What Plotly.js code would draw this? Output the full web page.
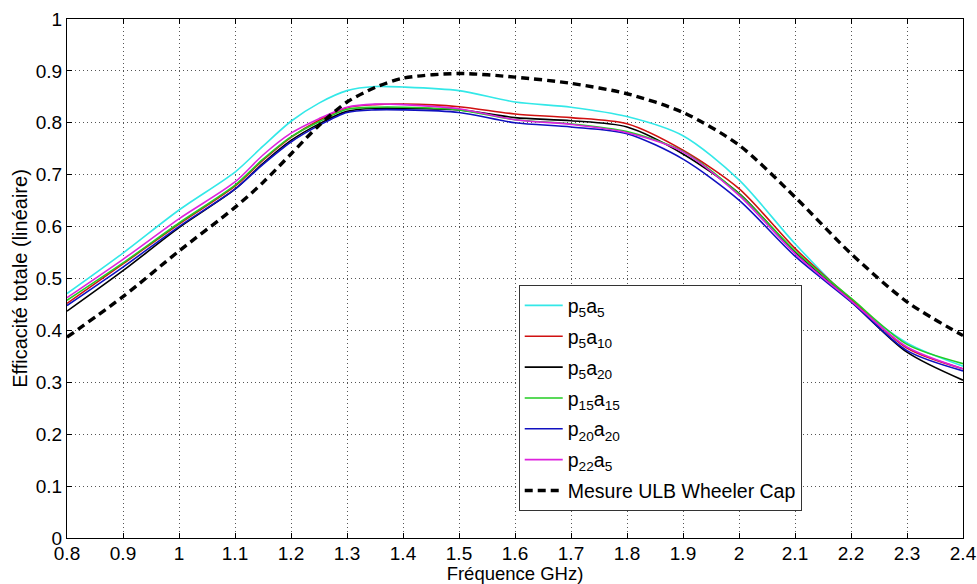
<!DOCTYPE html>
<html>
<head>
<meta charset="utf-8">
<script src="https://cdn.plot.ly/plotly-3.0.1.min.js"></script>
<style>html,body{margin:0;padding:0;background:#fff;}#chart{width:977px;height:584px;}</style>
</head>
<body>
<div id="chart"></div>
<script>
const freq = [0.8,0.9,1.0,1.1,1.15,1.2,1.25,1.3,1.35,1.4,1.5,1.6,1.7,1.8,1.9,2.0,2.1,2.2,2.3,2.4];
const p5a5   = [0.471,0.549,0.632,0.705,0.755,0.803,0.838,0.862,0.870,0.869,0.862,0.840,0.830,0.812,0.775,0.690,0.567,0.458,0.376,0.331];
const p5a10  = [0.452,0.528,0.605,0.678,0.728,0.772,0.805,0.829,0.835,0.836,0.831,0.817,0.810,0.798,0.747,0.673,0.558,0.460,0.366,0.326];
const p5a20  = [0.437,0.515,0.598,0.672,0.722,0.766,0.798,0.822,0.828,0.828,0.825,0.810,0.804,0.792,0.740,0.664,0.551,0.456,0.358,0.304];
const p15a15 = [0.458,0.530,0.607,0.680,0.730,0.773,0.802,0.826,0.830,0.830,0.825,0.806,0.798,0.783,0.745,0.663,0.553,0.462,0.373,0.336];
const p20a20 = [0.448,0.522,0.600,0.672,0.720,0.763,0.795,0.820,0.825,0.825,0.820,0.800,0.792,0.779,0.730,0.651,0.543,0.455,0.361,0.322];
const p22a5  = [0.463,0.537,0.615,0.686,0.738,0.780,0.808,0.830,0.836,0.835,0.827,0.806,0.797,0.781,0.744,0.660,0.548,0.457,0.368,0.326];
const mesure = [0.387,0.465,0.553,0.637,0.685,0.740,0.795,0.840,0.868,0.886,0.895,0.888,0.876,0.856,0.820,0.757,0.657,0.548,0.455,0.390];

const seriesNames = ['p<sub>5</sub>a<sub>5</sub>','p<sub>5</sub>a<sub>10</sub>','p<sub>5</sub>a<sub>20</sub>','p<sub>15</sub>a<sub>15</sub>','p<sub>20</sub>a<sub>20</sub>','p<sub>22</sub>a<sub>5</sub>','Mesure ULB Wheeler Cap'];
const seriesData = [p5a5,p5a10,p5a20,p15a15,p20a20,p22a5,mesure];
const colors = ['#33e8e8','#d01010','#000000','#22cc22','#1010c0','#dd22dd','#000000'];

const xTicks = [0.8,0.9,1,1.1,1.2,1.3,1.4,1.5,1.6,1.7,1.8,1.9,2,2.1,2.2,2.3,2.4];
const yTicks = [0,0.1,0.2,0.3,0.4,0.5,0.6,0.7,0.8,0.9,1];

const traces = seriesData.map((d,i)=>({
  x: freq, y: d, type:'scatter', mode:'lines', name: seriesNames[i], legendgroup:'g'+i,
  line:{color:colors[i], width: i===6?3.4:1.6, dash: i===6?'8px,5px':'solid', shape:'spline', smoothing:0.8}
}));
const font = {family:'"Liberation Sans", Arial, sans-serif', color:'#000'};
const axisCommon = {
  showline:true, linecolor:'#000', linewidth:1, mirror:'allticks',
  ticks:'inside', ticklen:5, tickcolor:'#000',
  showgrid:true, gridcolor:'#555', griddash:'1px,3px', gridwidth:1,
  zeroline:false, tickfont:Object.assign({size:19},font)
};
const layout = {
  width:977, height:584,
  margin:{l:67, r:14, t:19, b:46},
  paper_bgcolor:'#fff', plot_bgcolor:'#fff',
  showlegend:true,
  xaxis: Object.assign({}, axisCommon, {
    range:[0.8,2.4], tickvals:xTicks, ticktext:xTicks.map(String), ticklabelstandoff:-2,
    title:{text:'Fréquence GHz)', font:Object.assign({size:18.5},font), standoff:0}
  }),
  yaxis: Object.assign({}, axisCommon, {
    range:[0,1], tickvals:yTicks, ticktext:yTicks.map(String),
    title:{text:'Efficacité totale (linéaire)', font:Object.assign({size:20},font), standoff:2}
  }),
  legend:{
    x:0.820, y:0.487, xanchor:'right', yanchor:'top',
    bgcolor:'#fff', bordercolor:'#333', borderwidth:1,
    font:Object.assign({size:19.5},font), tracegroupgap:2.5, itemwidth:38
  }
};
Plotly.newPlot('chart', traces, layout, {displayModeBar:false, staticPlot:true});
</script>
</body>
</html>
